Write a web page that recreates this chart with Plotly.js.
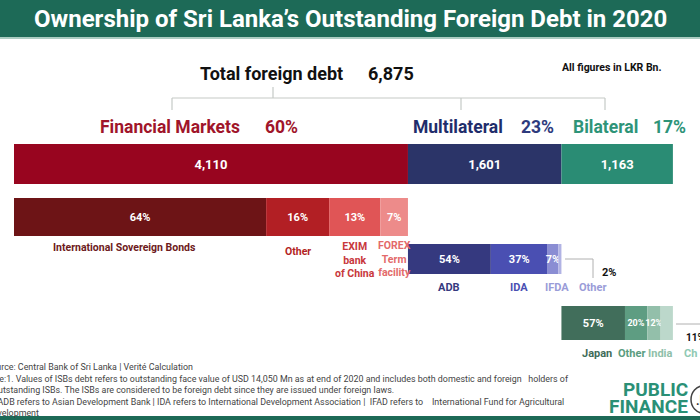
<!DOCTYPE html>
<html>
<head>
<meta charset="utf-8">
<script src="https://cdn.plot.ly/plotly-3.0.1.min.js"></script>
<style>html,body{margin:0;padding:0;background:#fff;}#chart{width:700px;height:420px;}</style>
</head>
<body>
<div id="chart"></div>
<script>
// ---------------- DATA ----------------
const totalDebt = 6875;
const groups = ['Financial Markets', 'Multilateral', 'Bilateral'];
const groupValues = [4110, 1601, 1163];
const groupShares = [60, 23, 17];

const finLabels = ['International Sovereign Bonds', 'Other', 'EXIM<br>bank<br>of China', 'FOREX<br>Term<br>facility'];
const finShares = [64, 16, 13, 7];

const multiLabels = ['ADB', 'IDA', 'IFDA', 'Other'];
const multiShares = [54, 37, 7, 2];

const biLabels = ['Japan', 'Other', 'India', 'China'];
const biShares = [57, 20, 12, 11];

// ---------------- STYLE / LAYOUT ----------------
const W = 700, H = 420;
const FONT = 'Roboto, "Open Sans", sans-serif';
const TITLEFONT = 'Roboto, "DejaVu Sans", sans-serif';
const groupColors = ['#98051f', '#2b3468', '#2a8c74'];
const groupLabelColors = ['#a0152a', '#1f2d6b', '#2e9478'];
const groupPctColors = ['#a0152a', '#2e3b7d', '#2e9478'];
const finColors = ['#6d1416', '#b21f24', '#e05556', '#ed8b8a'];
const finLabelColors = ['#6d1a20', '#b31f24', '#c8383c', '#e36a6a'];
const multiColors = ['#35397f', '#4a4fb2', '#8a8dd3', '#b1b3e4'];
const multiLabelColors = ['#363a7f', '#4a4fb2', '#9a9cd8', '#9a9cd8'];
const biColors = ['#416e5b', '#5e9d82', '#93bfaa', '#bcd8cb'];
const biLabelColors = ['#3f6c59', '#5a9c80', '#8fc0a9', '#8fc9b3'];

// pixel mapping of x axis: 0 -> 14px, total -> 673px
const x0px = 14, x1px = 673;
const perPx = totalDebt / (x1px - x0px);
const xRange = [-x0px * perPx, (W - x0px) * perPx];
const px = v => v / W; // paper x from pixel

const traces = [];
const annotations = [];

// main bar
let cum = 0;
const groupBase = [];
groupValues.forEach((v, i) => {
  groupBase.push(cum);
  traces.push({
    type: 'bar', orientation: 'h',
    x: [v], base: [cum], y: [164], width: [40],
    marker: {color: groupColors[i], line: {width: 0}},
    text: [v.toLocaleString('en-US')],
    textposition: 'inside', insidetextanchor: 'middle', constraintext: 'none', textangle: 0,
    textfont: {color: '#ffffff', size: 13, family: FONT, weight: 700},
    hoverinfo: 'skip'
  });
  cum += v;
});

function breakdown(shares, labels, colors, labelColors, gi, rowY, h, txtSize, showText, labelY, labelSize, xshifts) {
  let c = groupBase[gi];
  const parent = groupValues[gi];
  shares.forEach((s, j) => {
    const v = parent * s / 100;
    traces.push({
      type: 'bar', orientation: 'h',
      x: [v], base: [c], y: [rowY], width: [h],
      marker: {color: colors[j], line: {width: 0}},
      text: [showText[j] ? s + '%' : ''],
      textposition: 'inside', insidetextanchor: 'middle', constraintext: 'none', textangle: 0,
      textfont: {color: '#ffffff', size: txtSize[j], family: FONT, weight: 700},
      hoverinfo: 'skip'
    });
    if (labels[j] !== null) {
      annotations.push({
        x: c + v / 2, y: labelY[j], xref: 'x', yref: 'y',
        text: labels[j], showarrow: false, xanchor: 'center', yanchor: 'middle',
        xshift: xshifts[j],
        font: {family: FONT, size: labelSize, color: labelColors[j], weight: 700},
        align: 'center'
      });
    }
    c += v;
  });
}

breakdown(finShares, finLabels, finColors, finLabelColors, 0, 217, 38,
  [11, 11, 11, 11], [true, true, true, true], [247, 251, 260, 259], 10.5, [-16, 0, 0, 0]);
breakdown(multiShares, multiLabels, multiColors, multiLabelColors, 1, 259, 30,
  [11, 11, 11, 11], [true, true, true, false], [287, 287, 287, 287], 11, [0, 0, 4, 33]);
breakdown(biShares, ['Japan', 'Other', 'India', 'Ch'], biColors, biLabelColors, 2, 323, 34,
  [11, 9, 9, 9], [true, true, true, false], [353, 353, 353, 353], 11, [4, -5, 6, 24]);

// title
annotations.push({x: 0.5, y: 19, xref: 'paper', yref: 'y', text: '<b>Ownership of Sri Lanka\u2019s Outstanding Foreign Debt in 2020</b>',
  showarrow: false, xanchor: 'center', yanchor: 'middle', font: {family: TITLEFONT, size: 24, color: '#ffffff'}});
// total
annotations.push({x: px(345), y: 73, xref: 'paper', yref: 'y', text: 'Total foreign debt', showarrow: false,
  xanchor: 'right', yanchor: 'middle', font: {family: FONT, size: 18, color: '#111', weight: 700}});
annotations.push({x: px(366), y: 73, xref: 'paper', yref: 'y', text: totalDebt.toLocaleString('en-US'), showarrow: false,
  xanchor: 'left', yanchor: 'middle', font: {family: FONT, size: 18, color: '#111', weight: 700}});
annotations.push({x: px(560), y: 67, xref: 'paper', yref: 'y', text: 'All figures in LKR Bn.', showarrow: false,
  xanchor: 'left', yanchor: 'middle', font: {family: FONT, size: 10.5, color: '#111', weight: 700}});

// group labels
const gLabelRight = [242, 505, 640];
const gPctLeft = [263, 519, 651];
groups.forEach((g, i) => {
  annotations.push({x: px(gLabelRight[i]), y: 127, xref: 'paper', yref: 'y', text: g, showarrow: false,
    xanchor: 'right', yanchor: 'middle', font: {family: FONT, size: 17.5, color: groupLabelColors[i], weight: 700}});
  annotations.push({x: px(gPctLeft[i]), y: 127, xref: 'paper', yref: 'y', text: groupShares[i] + '%', showarrow: false,
    xanchor: 'left', yanchor: 'middle', font: {family: FONT, size: 17.5, color: groupPctColors[i], weight: 700}});
});

// small outside percentages
annotations.push({x: px(600), y: 272, xref: 'paper', yref: 'y', text: multiShares[3] + '%', showarrow: false,
  xanchor: 'left', yanchor: 'middle', font: {family: FONT, size: 11, color: '#111', weight: 700}});
annotations.push({x: px(684), y: 337, xref: 'paper', yref: 'y', text: biShares[3] + '%', showarrow: false,
  xanchor: 'left', yanchor: 'middle', font: {family: FONT, size: 10, color: '#111', weight: 700}});

// footnotes
const notes = [
  ['Source: Central Bank of Sri Lanka | Verit\u00e9 Calculation', -16, 367],
  ['Note:1. Values of ISBs debt refers to outstanding face value of USD 14,050 Mn as at end of 2020 and includes both domestic and foreign   holders of', -17, 378.5],
  ['outstanding ISBs. The ISBs are considered to be foreign debt since they are issued under foreign laws.', -9, 390],
  ['2. ADB refers to Asian Development Bank | IDA refers to International Development Association |  IFAD refers to    International Fund for Agricultural', -14, 401.5],
  ['Development', -15, 413]
];
notes.forEach(n => annotations.push({x: px(n[1]), y: n[2], xref: 'paper', yref: 'y', text: n[0], showarrow: false,
  xanchor: 'left', yanchor: 'middle', font: {family: FONT, size: 8.9, color: '#444'}}));

// logo
annotations.push({x: px(690), y: 389, xref: 'paper', yref: 'y', text: '<b>PUBLIC</b>', showarrow: false,
  xanchor: 'right', yanchor: 'middle', font: {family: FONT, size: 19, color: '#2a9076'}});
annotations.push({x: px(690), y: 406, xref: 'paper', yref: 'y', text: '<b>FINANCE</b>', showarrow: false,
  xanchor: 'right', yanchor: 'middle', font: {family: FONT, size: 19, color: '#2a9076'}});
annotations.push({x: px(694), y: 401, xref: 'paper', yref: 'y', text: '<b>.l</b>', showarrow: false,
  xanchor: 'left', yanchor: 'middle', font: {family: FONT, size: 12, color: '#333'}});

const line = (xa, ya, xb, yb, col, w) => ({type: 'line', xref: 'paper', yref: 'y', x0: px(xa), y0: ya, x1: px(xb), y1: yb,
  line: {color: col || '#c5cac6', width: w || 1.2}});
const shapes = [
  {type: 'rect', xref: 'paper', yref: 'y', x0: 0, x1: 1, y0: 0, y1: 37, fillcolor: '#1d6a57', line: {width: 0}, layer: 'below'},
  line(0, 38, W, 38, '#8fbcae', 1.5),
  line(273, 87, 273, 98), line(172, 98, 605, 98), line(172, 98, 172, 110), line(461, 98, 461, 110), line(605, 98, 605, 110),
  line(565, 259, 593, 259, '#b0b0b0', 1), line(593, 259, 593, 278, '#b0b0b0', 1),
  line(676, 324, 705, 324, '#b0b0b0', 1),
  {type: 'circle', xref: 'paper', yref: 'y', x0: px(691), x1: px(715), y0: 386, y1: 413, line: {color: '#444', width: 1.5}},
  {type: 'rect', xref: 'paper', yref: 'y', x0: 0, x1: 1, y0: 416, y1: 420, fillcolor: '#1d6a57', line: {width: 0}}
];

const layout = {
  width: W, height: H,
  margin: {l: 0, r: 0, t: 0, b: 0, pad: 0},
  paper_bgcolor: '#ffffff', plot_bgcolor: '#ffffff',
  showlegend: false, barmode: 'overlay',
  xaxis: {range: xRange, visible: false, fixedrange: true},
  yaxis: {range: [H, 0], visible: false, fixedrange: true},
  annotations: annotations, shapes: shapes,
  font: {family: FONT}
};

Plotly.newPlot('chart', traces, layout, {displayModeBar: false, staticPlot: true});
</script>
</body>
</html>
